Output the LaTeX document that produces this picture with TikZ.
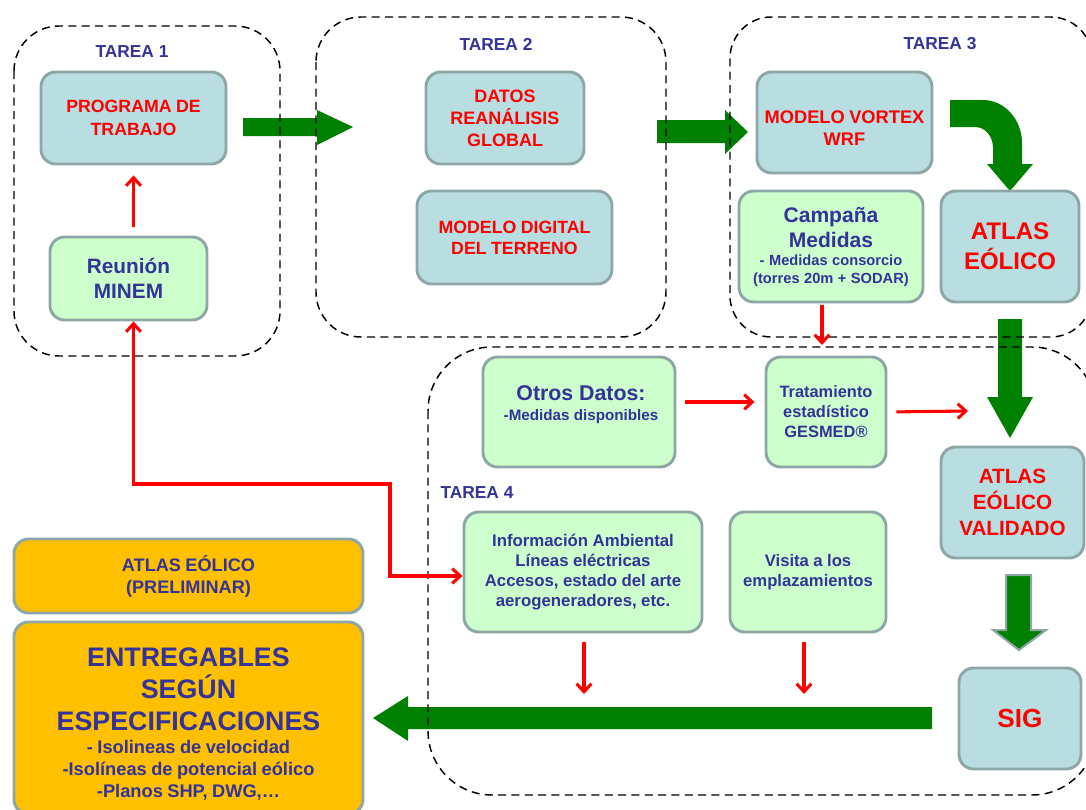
\documentclass[tikz,border=0pt]{standalone}
\usepackage{fontspec}
\setmainfont{Liberation Sans}
\usetikzlibrary{arrows.meta}
\definecolor{boxblue}{HTML}{B8DEE1}
\definecolor{boxgreen}{HTML}{CCFFCC}
\definecolor{boxorange}{HTML}{FFC000}
\definecolor{edgegray}{HTML}{8EA6A6}
\definecolor{txtblue}{HTML}{333399}
\definecolor{txtred}{HTML}{FF0000}
\definecolor{arrgreen}{HTML}{008000}
\tikzset{
  box/.style={draw=edgegray, line width=2.2pt, rounded corners=11pt, inner sep=0pt, align=center, font=\bfseries},
  bluebox/.style={box, fill=boxblue, text=txtred},
  greenbox/.style={box, fill=boxgreen, text=txtblue},
  orangebox/.style={box, fill=boxorange, text=txtblue},
  boxtext/.style={inner sep=0pt, align=center, font=\bfseries},
  tareabox/.style={dash pattern=on 6pt off 4pt, line width=1.1pt, draw=black},
  tlabel/.style={text=txtblue, inner sep=0pt, font=\bfseries\fontsize{13}{15}\selectfont},
  bigarrow/.style={fill=arrgreen},
  redline/.style={draw=red, line width=2.3pt},
  redarrow/.style={redline, -{Straight Barb[length=6pt,width=11pt]}},
}
\begin{document}
\begin{tikzpicture}[x=0.75pt, y=-0.75pt]
\path[use as bounding box] (0,0) rectangle (1086,810);
\clip (0,0) rectangle (1086,810);

% green flow arrows
\fill[bigarrow] (243,118) -- (317,118) -- (317,110) -- (353,127) -- (317,145) -- (317,136) -- (243,136) -- cycle;
\fill[bigarrow] (657,120) -- (725,120) -- (725,110) -- (748,132) -- (725,154) -- (725,143) -- (657,143) -- cycle;
\fill[bigarrow] (950,100) -- (983,100) .. controls (1005,100) and (1022,120) .. (1022,143) -- (1022,164) -- (1033,164) -- (1010,191) -- (987,164) -- (993,164) -- (993,148) .. controls (993,136) and (985,127) .. (975,127) -- (950,127) -- cycle;
\fill[bigarrow] (998,319) -- (1022,319) -- (1022,397) -- (1033,397) -- (1010,438) -- (987,397) -- (998,397) -- cycle;
\filldraw[bigarrow, draw=edgegray, line width=1.5pt] (1006,575) -- (1031,575) -- (1031,630) -- (1046,630) -- (1019,650) -- (993,630) -- (1006,630) -- cycle;
\fill[bigarrow] (932,707) -- (408,707) -- (408,696) -- (373,718) -- (408,741) -- (408,729) -- (932,729) -- cycle;

% task containers
\draw[tareabox, rounded corners=33.75pt] (14,26) rectangle (280,356);
\draw[tareabox, rounded corners=33.75pt] (316,17) rectangle (666,337);
\draw[tareabox, rounded corners=31pt] (730,17) rectangle (1092,337);
\draw[tareabox, rounded corners=48pt] (428,347) rectangle (1096,795);

\node[tlabel] (t1) at (132,52) {TAREA 1};
\node[tlabel] (t2) at (496,44) {TAREA 2};
\node[tlabel] (t3) at (940,44) {TAREA 3};
\node[tlabel] (t4) at (477,493) {TAREA 4};

% boxes
\node[bluebox, minimum width=138.75pt, text width=138.75pt, minimum height=69pt] (prog) at (133.5,118)
  {\fontsize{13.3}{17}\selectfont PROGRAMA DE\\TRABAJO\par};
\node[greenbox, minimum width=117.75pt, text width=117.75pt, minimum height=62.25pt] (reu) at (128.5,278.5)
  {\fontsize{15.6}{18.75}\selectfont Reunión\\MINEM\par};
\node[bluebox, minimum width=118.5pt, text width=118.5pt, minimum height=69pt] (datos) at (505,118)
  {\fontsize{13.5}{16.5}\selectfont DATOS\\REANÁLISIS\\GLOBAL\par};
\node[bluebox, minimum width=146.25pt, text width=146.25pt, minimum height=69.75pt] (mdt) at (514.5,237.5)
  {\fontsize{13.3}{15.75}\selectfont MODELO DIGITAL\\DEL TERRENO\par};
\node[bluebox, minimum width=131.25pt, minimum height=75.75pt] (vortex) at (844.5,122.5) {};
\node[boxtext, text=txtred, text width=131.25pt] (vortext) at (844.5,128)
  {\fontsize{13.7}{16.5}\selectfont MODELO VORTEX\\WRF\par};
\node[greenbox, minimum width=138pt, text width=138pt, minimum height=83.25pt] (camp) at (831,246.5)
  {{\fontsize{15.8}{18.75}\selectfont Campaña\\Medidas\par}{\fontsize{11}{13.5}\selectfont - Medidas consorcio\\(torres 20m + SODAR)\par}};
\node[bluebox, minimum width=103.5pt, text width=103.5pt, minimum height=83.25pt] (atlas) at (1010,246.5)
  {\fontsize{18}{22.5}\selectfont ATLAS\\EÓLICO\par};
\node[greenbox, minimum width=144pt, minimum height=82.5pt] (otros) at (579,412) {};
\node[boxtext, text=txtblue] (otrost) at (581,405)
  {{\fontsize{16}{18}\selectfont Otros Datos:}\\[3pt]{\fontsize{11.4}{14}\selectfont -Medidas disponibles}};
\node[greenbox, minimum width=90pt, text width=90pt, minimum height=82.5pt] (trat) at (826,412)
  {\fontsize{12.3}{15}\selectfont Tratamiento\\estadístico\\GESMED®\par};
\node[bluebox, minimum width=107.25pt, text width=107.25pt, minimum height=83.25pt] (valid) at (1012.5,502.5)
  {\fontsize{15.5}{19.5}\selectfont ATLAS\\EÓLICO\\VALIDADO\par};
\node[greenbox, minimum width=178.5pt, text width=178.5pt, minimum height=90pt] (info) at (583,572)
  {\fontsize{12.6}{15}\selectfont Información Ambiental\\Líneas eléctricas\\Accesos, estado del arte\\aerogeneradores, etc.\par};
\node[greenbox, minimum width=117pt, text width=117pt, minimum height=90pt] (visita) at (808,572)
  {\fontsize{12.5}{15}\selectfont Visita a los\\emplazamientos\par};
\node[bluebox, minimum width=91.5pt, text width=91.5pt, minimum height=75.75pt] (sig) at (1020,718.5)
  {\fontsize{19.6}{22}\selectfont SIG\par};
\node[orangebox, minimum width=261.75pt, text width=261.75pt, minimum height=55.5pt] (prelim) at (188.5,576)
  {\fontsize{13.6}{16.5}\selectfont ATLAS EÓLICO\\(PRELIMINAR)\par};
\node[orangebox, minimum width=261.75pt, minimum height=144pt] (entreg) at (188.5,718) {};
\node[boxtext, text=txtblue, text width=261.75pt] (entregt) at (188.5,724)
  {{\fontsize{20.1}{24}\selectfont ENTREGABLES\\SEGÚN\\ESPECIFICACIONES\par}\vspace{1pt}{\fontsize{13.7}{16.5}\selectfont - Isolineas de velocidad\\-Isolíneas de potencial eólico\\-Planos SHP, DWG,…\par}};

% red connectors
\coordinate (bend) at (390,484);
\coordinate (tvend) at (968,411);
\coordinate (campend) at (822,345);
\coordinate (infoend) at (584,694);
\coordinate (visend) at (804,694);

\draw[redarrow, shorten <=6.75pt, shorten >=7.5pt] (prog.south |- reu.north) -- (prog.south);
\draw[redline, {Straight Barb[length=6pt,width=11pt]}-{Straight Barb[length=6pt,width=11pt]}]
  (prog.south |- reu.south) |- (bend) |- ([yshift=-3pt]info.west);
\draw[redarrow, shorten <=6.75pt, shorten >=7.5pt] ([yshift=7.5pt]otros.east) -- ([yshift=7.5pt]trat.west);
\draw[redarrow, shorten <=6.75pt] (trat.east) -- (tvend);
\draw[redarrow, shorten <=1pt] (campend |- camp.south) -- (campend);
\draw[redarrow, shorten <=6.75pt] (infoend |- info.south) -- (infoend);
\draw[redarrow, shorten <=6.75pt] (visend |- visita.south) -- (visend);
\end{tikzpicture}
\end{document}
